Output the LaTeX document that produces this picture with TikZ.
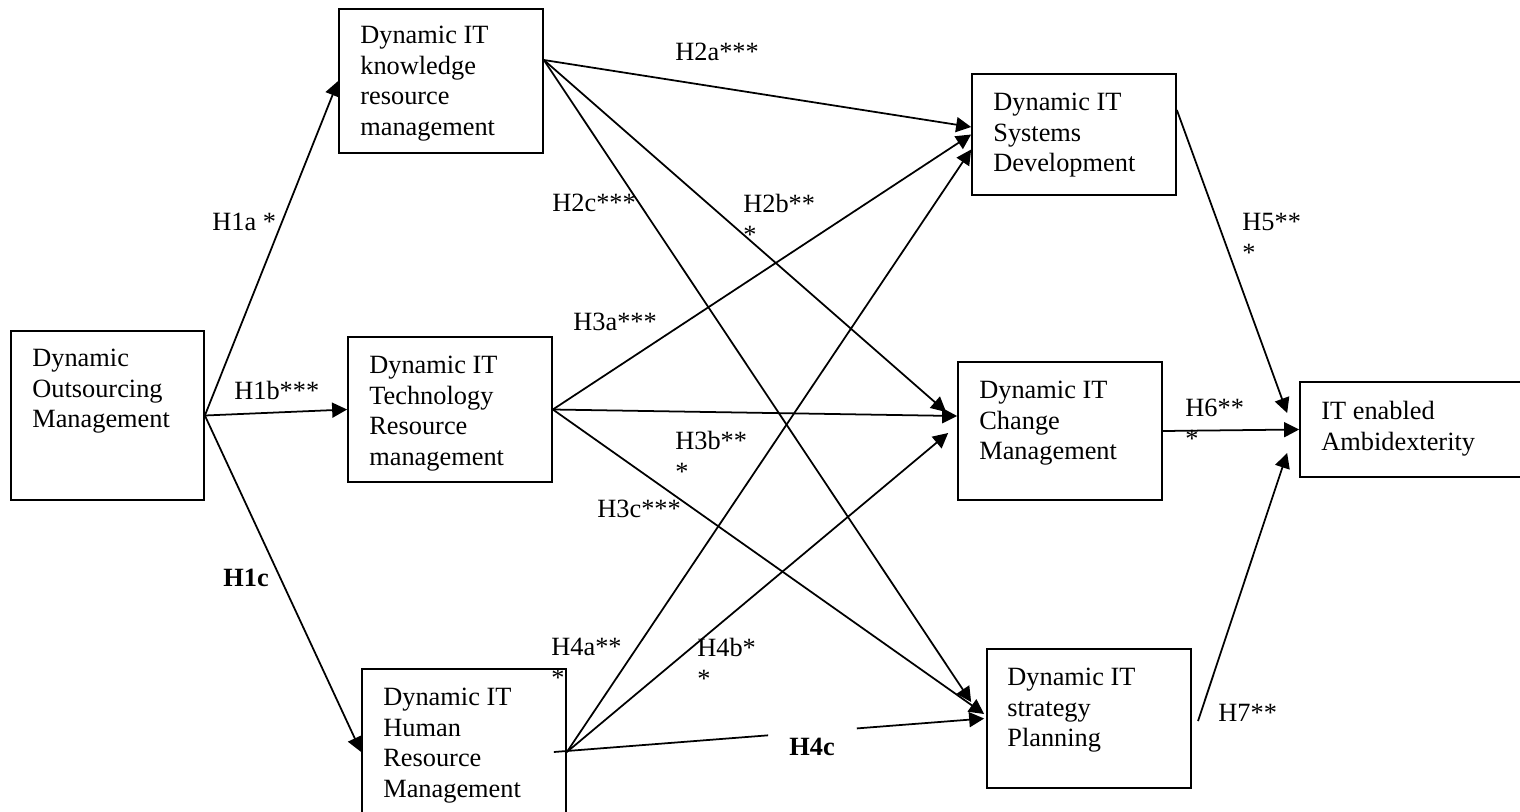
\documentclass[tikz,border=0pt]{standalone}
\usepackage{fontspec}
\setmainfont{Liberation Serif}
\usetikzlibrary{arrows.meta}

\begin{document}
\begin{tikzpicture}[x=0.02cm,y=-0.02cm,
  box/.style={draw,line width=1pt,inner sep=0pt},
  txt/.style={anchor=north west,inner sep=0pt,align=left,font=\fontsize{15}{17.4}\selectfont},
  hyp/.style={txt},
  arr/.style={line width=1pt,-{Triangle[length=0.3cm,width=0.3cm]}}]
\useasboundingbox (0,0) rectangle (1520,811);
\clip (0,0) rectangle (1520,811);
% boxes
\node[box,minimum width=3.86cm,minimum height=3.38cm] (out) at (107.5,415.5) {};
\node[box,minimum width=4.08cm,minimum height=2.88cm] (know) at (441,81) {};
\node[box,minimum width=4.08cm,minimum height=2.9cm] (tech) at (450,409.5) {};
\node[box,minimum width=4.08cm,minimum height=3.32cm] (hum) at (464,752) {};
\node[box,minimum width=4.08cm,minimum height=2.42cm] (sys) at (1074,134.5) {};
\node[box,minimum width=4.08cm,minimum height=2.76cm] (chg) at (1060,431) {};
\node[box,minimum width=4.08cm,minimum height=2.78cm] (strat) at (1089,718.5) {};
\node[box,minimum width=4.8cm,minimum height=1.9cm] (amb) at (1420,429.5) {};
% box texts
\node[txt] (outT) at (32,349) {Dynamic\\Outsourcing\\Management};
\node[txt] (knowT) at (360,26) {Dynamic IT\\knowledge\\resource\\management};
\node[txt] (techT) at (369,356) {Dynamic IT\\Technology\\Resource\\management};
\node[txt] (humT) at (383,688) {Dynamic IT\\Human\\Resource\\Management};
\node[txt] (sysT) at (993,93) {Dynamic IT\\Systems\\Development};
\node[txt] (chgT) at (979,381) {Dynamic IT\\Change\\Management};
\node[txt] (stratT) at (1007,668) {Dynamic IT\\strategy\\Planning};
\node[txt] (ambT) at (1321,401) {IT enabled\\Ambidexterity};
% hypotheses
\node[hyp] (h1a) at (212,213) {H1a *};
\node[hyp] (h1b) at (234,381) {H1b***};
\node[hyp,font=\fontsize{15}{17.4}\selectfont\bfseries] (h1c) at (223,569) {H1c};
\node[hyp] (h2a) at (675,43) {H2a***};
\node[hyp] (h2c) at (552,194) {H2c***};
\node[hyp] (h2b) at (743,194) {H2b**\\*};
\node[hyp] (h3a) at (573,313) {H3a***};
\node[hyp] (h3b) at (675,431) {H3b**\\*};
\node[hyp] (h3c) at (597,500) {H3c***};
\node[hyp] (h4a) at (551,638) {H4a**\\*};
\node[hyp] (h4b) at (697,638) {H4b*\\*};
\node[hyp,font=\fontsize{15}{17.4}\selectfont\bfseries] (h4c) at (789,738) {H4c};
\node[hyp] (h5) at (1242,213) {H5**\\*};
\node[hyp] (h6) at (1185,399) {H6**\\*};
\node[hyp] (h7) at (1218,704) {H7**};
% paths
\draw[arr] (out.east) -- (know.west);
\draw[arr] (out.east) -- (tech.west);
\draw[arr] (out.east) -- (hum.west);
\draw[arr] ([yshift=0.42cm]know.east) -- ([yshift=0.15cm]sys.west);
\draw[arr] ([yshift=0.42cm]know.east) -- ([shift={(-0.22cm,0.38cm)}]chg.west);
\draw[arr] ([yshift=0.42cm]know.east) -- ([shift={(-0.3cm,0.33cm)}]strat.west);
\draw[arr] (tech.east) -- (sys.west);
\draw[arr] (tech.east) -- ([yshift=0.3cm]chg.west);
\draw[arr] (tech.east) -- ([shift={(-0.04cm,0.09cm)}]strat.west);
\draw[arr] (hum.east) -- ([yshift=-0.3cm]sys.west);
\draw[arr] (hum.east) -- ([shift={(-0.18cm,-0.04cm)}]chg.west);
\coordinate (h4s) at ([xshift=-0.26cm]hum.east);
\coordinate (h4e) at ([xshift=-0.04cm]strat.west);
\path (h4s) -- (h4e) coordinate[pos=0.498] (h4gapA) coordinate[pos=0.704] (h4gapB);
\draw[line width=1pt] (h4s) -- (h4gapA);
\draw[arr] (h4gapB) -- (h4e);
\draw[arr] ([yshift=0.49cm]sys.east) -- ([shift={(-0.24cm,0.33cm)}]amb.west);
\draw[arr] (chg.east) -- (amb.west);
\coordinate (h7s) at (1198,721);
\draw[arr] (h7s) -- ([shift={(-0.24cm,-0.47cm)}]amb.west);
\end{tikzpicture}
\end{document}
